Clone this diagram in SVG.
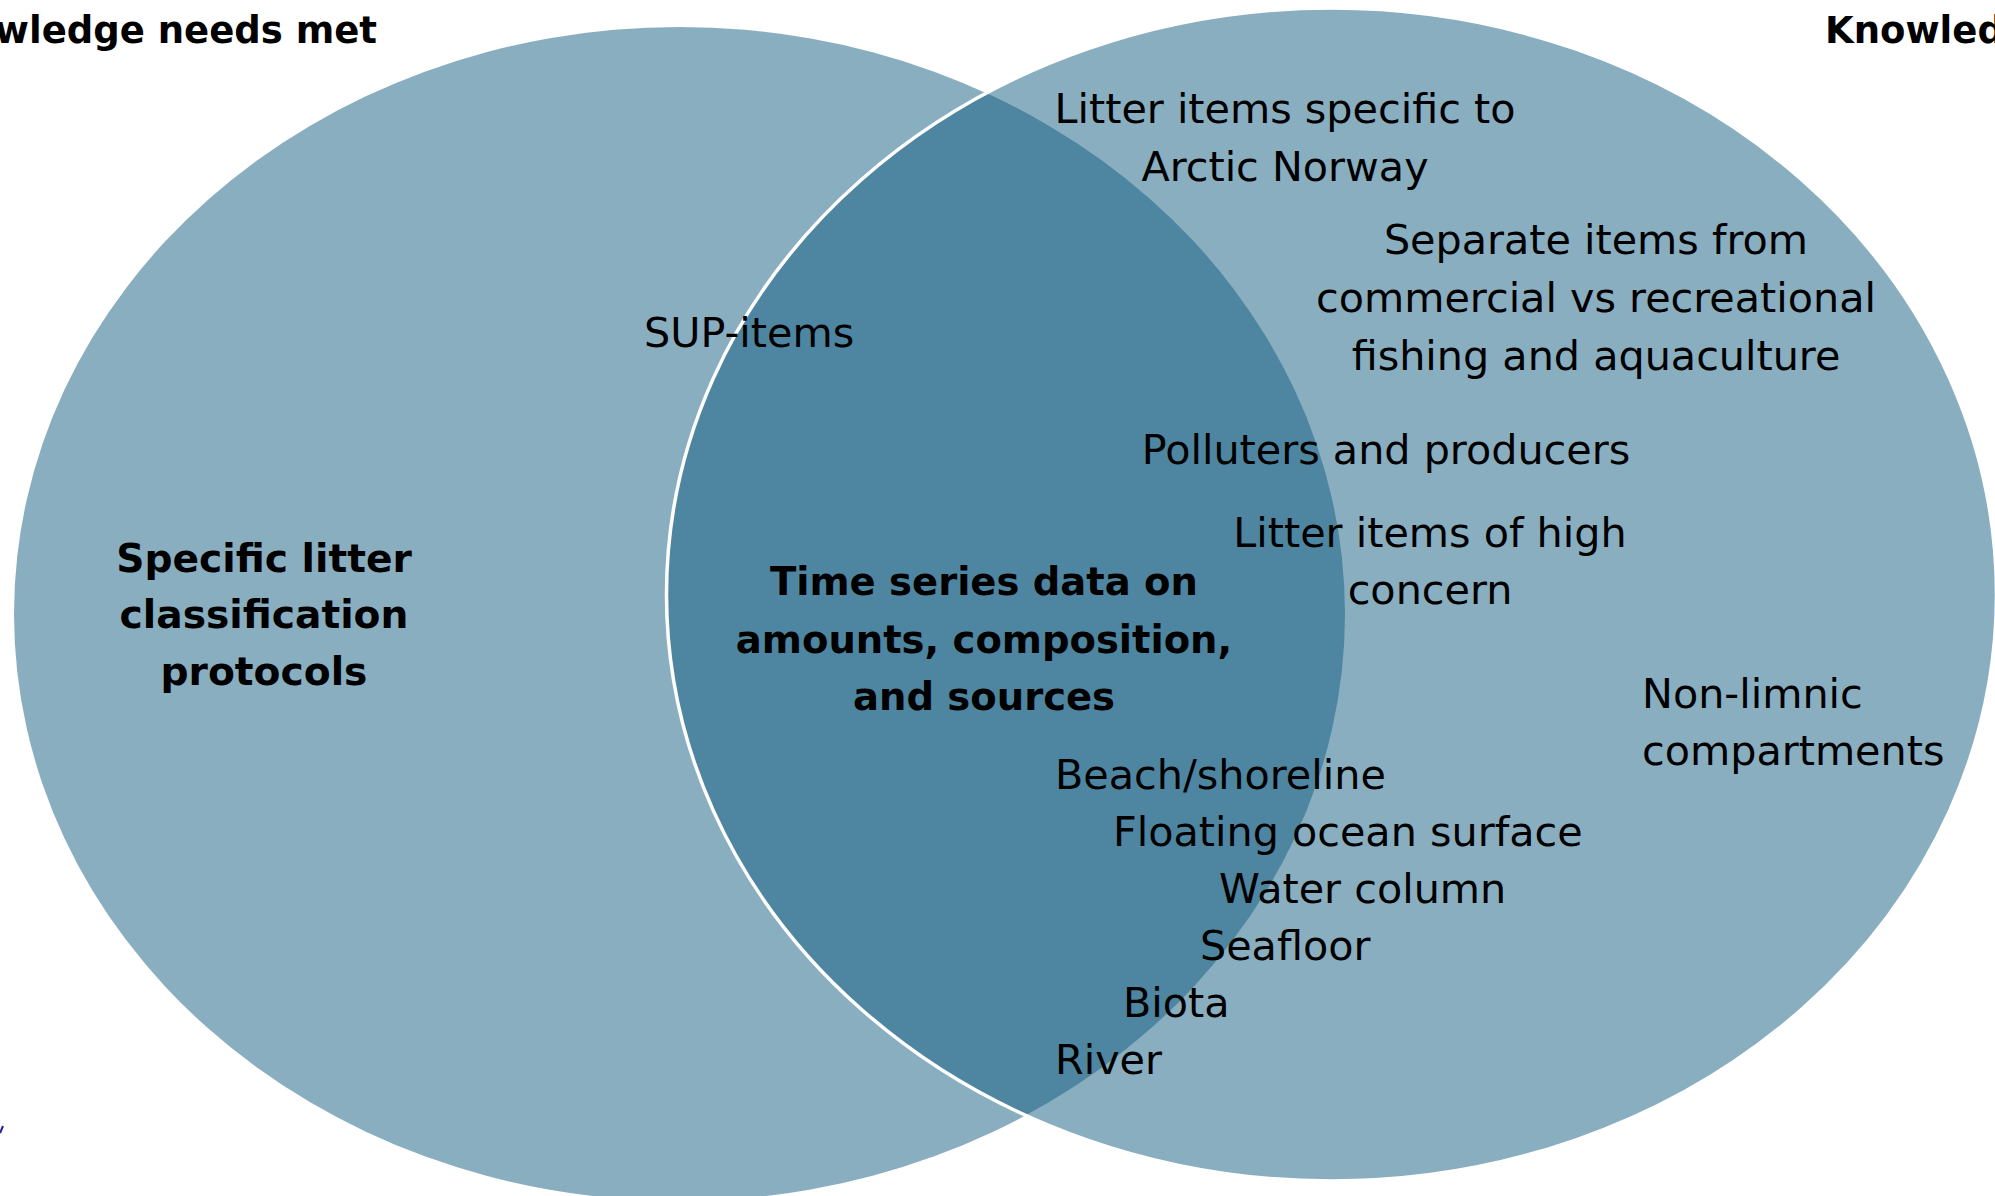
<svg xmlns="http://www.w3.org/2000/svg" width="1995" height="1196" viewBox="0 0 1995 1196">
<style>
.set{fill:#135E82;fill-opacity:0.5}
.rim{fill:none;stroke:#FFFFFF;stroke-width:3.5}
text{font-family:"DejaVu Sans","Liberation Sans",sans-serif;fill:#000000}
.r{font-size:41.3px}
.b{font-size:38.5px;font-weight:bold}
.bl{font-size:39.2px;font-weight:bold}
.t{font-size:37px;font-weight:bold}
.c{text-anchor:middle}
</style>
<rect width="1995" height="1196" fill="#FFFFFF"/>
<g id="set-left">
<ellipse class="set" cx="679.5" cy="614" rx="665.5" ry="587"/>
</g>
<g id="set-right">
<ellipse class="set" cx="1331.5" cy="594.5" rx="665" ry="586.5"/>
<ellipse class="rim" cx="1331.5" cy="594.5" rx="665" ry="586.5"/>
</g>
<g id="connectors"></g>
<g id="title-left"><text class="t" x="377" y="43" text-anchor="end">Knowledge needs met</text></g>
<g id="title-right"><text class="t" x="1825" y="43">Knowledge gaps</text></g>
<g id="left-only"><text class="bl c" x="264" y="572">Specific litter</text><text class="bl c" x="264" y="628">classification</text><text class="bl c" x="264" y="685">protocols</text></g>
<g id="overlap"><text class="b c" x="984" y="595">Time series data on</text><text class="b c" x="984" y="653">amounts, composition,</text><text class="b c" x="984" y="710">and sources</text></g>
<g id="sup"><text class="r" x="644" y="347">SUP-items</text></g>
<g id="arctic"><text class="r c" x="1285" y="123">Litter items specific to</text><text class="r c" x="1285" y="181">Arctic Norway</text></g>
<g id="fishing"><text class="r c" x="1596" y="254">Separate items from</text><text class="r c" x="1596" y="312">commercial vs recreational</text><text class="r c" x="1596" y="370">fishing and aquaculture</text></g>
<g id="polluters"><text class="r c" x="1386" y="464">Polluters and producers</text></g>
<g id="concern"><text class="r c" x="1430" y="547">Litter items of high</text><text class="r c" x="1430" y="604">concern</text></g>
<g id="nonlimnic"><text class="r" x="1642" y="708">Non-limnic</text><text class="r" x="1642" y="765">compartments</text></g>
<g id="compartments">
<text class="r" x="1055" y="789">Beach/shoreline</text>
<text class="r" x="1113" y="846">Floating ocean surface</text>
<text class="r" x="1219" y="903">Water column</text>
<text class="r" x="1200" y="960">Seafloor</text>
<text class="r" x="1123" y="1017">Biota</text>
<text class="r" x="1055" y="1074">River</text>
</g>
<line x1="0" y1="1133" x2="3" y2="1126" stroke="#1F1F9F" stroke-width="2"/>
</svg>
